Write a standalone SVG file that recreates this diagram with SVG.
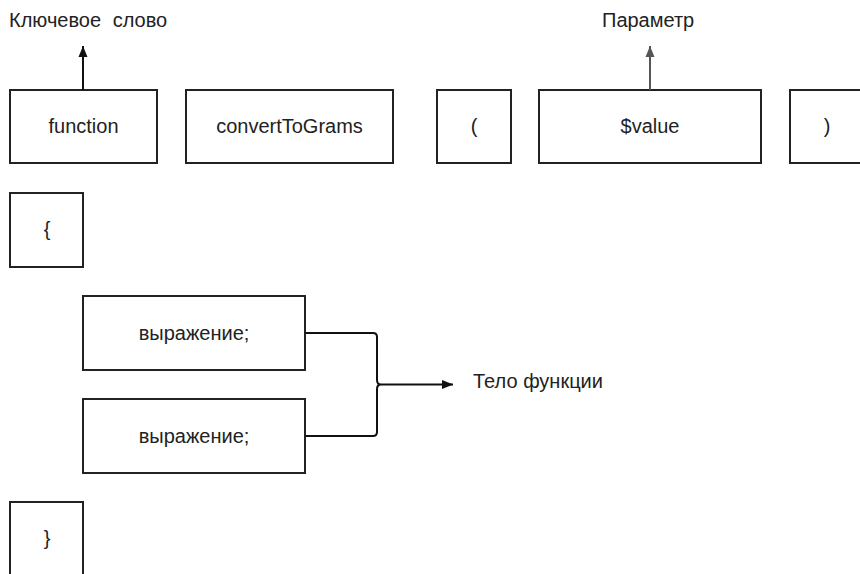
<svg xmlns="http://www.w3.org/2000/svg" width="860" height="574" viewBox="0 0 860 574">
<style>
.box{fill:#fff;stroke:#222;stroke-width:2}
.t{font-family:"Liberation Sans",Arial,sans-serif;font-size:20px;fill:#222;text-anchor:middle}
.l{font-family:"Liberation Sans",Arial,sans-serif;font-size:20px;fill:#222}
.c{fill:none;stroke:#111;stroke-width:2}
</style>
<defs>
<marker id="ah" markerWidth="10" markerHeight="12" refX="11" refY="5" orient="auto" markerUnits="userSpaceOnUse">
<path d="M0,0.5 L11,5 L0,9.5 Z" fill="#111"/>
</marker>
<marker id="ahg" markerWidth="10" markerHeight="12" refX="11" refY="5" orient="auto" markerUnits="userSpaceOnUse">
<path d="M0,0.5 L11,5 L0,9.5 Z" fill="#555"/>
</marker>
</defs>
<text class="l" x="9" y="27" word-spacing="6">Ключевое слово</text>
<text class="l" x="602" y="27">Параметр</text>
<text class="l" x="473" y="388">Тело функции</text>
<g id="n-function"><rect class="box" x="10" y="90" width="147" height="73"/><text class="t" x="83.5" y="133">function</text></g>
<g id="n-name"><rect class="box" x="186" y="90" width="207" height="73"/><text class="t" x="289.5" y="133">convertToGrams</text></g>
<g id="n-lparen"><rect class="box" x="437" y="90" width="74" height="73"/><text class="t" x="474" y="133">(</text></g>
<g id="n-value"><rect class="box" x="539" y="90" width="222" height="73"/><text class="t" x="650" y="133">$value</text></g>
<g id="n-rparen"><rect class="box" x="790" y="90" width="90" height="73"/><text class="t" x="827" y="133">)</text></g>
<g id="n-lbrace"><rect class="box" x="10" y="193" width="73" height="74"/><text class="t" x="47" y="236">{</text></g>
<g id="n-expr1"><rect class="box" x="83" y="296" width="222" height="74"/><text class="t" x="194" y="340">выражение;</text></g>
<g id="n-expr2"><rect class="box" x="83" y="399" width="222" height="74"/><text class="t" x="194" y="443">выражение;</text></g>
<g id="n-rbrace"><rect class="box" x="10" y="502" width="73" height="90"/><text class="t" x="47" y="545">}</text></g>
<g id="connectors">
<line class="c" x1="83" y1="90" x2="83" y2="46" marker-end="url(#ah)"/>
<line x1="650" y1="90" x2="650" y2="46" stroke="#555" stroke-width="2" marker-end="url(#ahg)"/>
<path class="c" d="M305,333 H373 Q377,333 377,337 V380 Q377,384.5 381,384.5 Q377,384.5 377,389 V432 Q377,436 373,436 H305"/>
<line class="c" x1="381" y1="384.5" x2="453" y2="384.5" marker-end="url(#ah)"/>
</g>
</svg>
